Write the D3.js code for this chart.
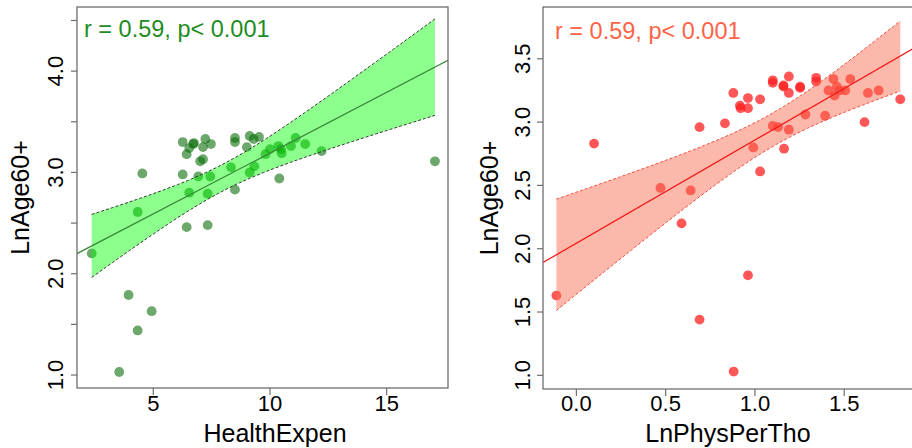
<!DOCTYPE html>
<html>
<head>
<meta charset="utf-8">
<script src="https://cdn.jsdelivr.net/npm/d3@7"></script>
<style>
  html, body { margin: 0; padding: 0; background: #fff; }
  svg { display: block; font-family: Arial, "Liberation Sans", sans-serif; }
</style>
</head>
<body>
<svg id="chart" width="912" height="448"></svg>
<script>
// ---------- data ----------
const healthExpen = [2.36,3.54,3.94,4.33,4.33,4.53,4.93,6.26,6.26,6.43,6.43,6.54,6.54,6.71,6.74,6.93,7.01,7.13,7.13,7.23,7.33,7.33,7.44,7.47,8.33,8.50,8.50,8.50,9.01,9.13,9.13,9.30,9.33,9.53,9.81,10.0,10.36,10.4,10.47,10.5,10.9,11.1,11.51,12.21,17.07];
const lnAge60Left = [2.20,1.03,1.79,1.44,2.61,2.99,1.63,3.30,2.98,3.18,2.46,3.24,2.80,3.28,3.29,2.96,3.11,3.13,3.25,3.33,2.79,2.48,2.96,3.28,3.05,3.34,3.30,2.83,3.25,3.36,3.00,3.33,3.06,3.35,3.18,3.23,3.26,2.94,3.23,3.19,3.26,3.34,3.28,3.21,3.11];

const lnPhysPerTho = [-0.112,0.099,0.471,0.589,0.640,0.690,0.690,0.832,0.879,0.881,0.916,0.920,0.961,0.961,0.961,0.991,1.029,1.029,1.10,1.10,1.10,1.13,1.16,1.16,1.163,1.19,1.19,1.19,1.253,1.253,1.283,1.343,1.343,1.393,1.412,1.44,1.446,1.459,1.474,1.506,1.534,1.614,1.633,1.693,1.814];
const lnAge60Right = [1.63,2.83,2.48,2.20,2.46,2.96,1.44,2.99,3.23,1.03,3.13,3.11,3.19,3.11,1.79,2.80,3.18,2.61,3.33,3.31,2.97,2.96,3.29,3.28,2.79,3.36,3.23,2.94,3.28,3.27,3.06,3.35,3.32,3.05,3.25,3.34,3.21,3.28,3.25,3.25,3.34,3.00,3.23,3.25,3.18];

const leftXTicks = [5, 10, 15];
const leftYTicks = [1.0, 1.5, 2.0, 2.5, 3.0, 3.5, 4.0, 4.5];
const leftYLabels = [1.0, 2.0, 3.0, 4.0];
const rightXTicks = [0.0, 0.5, 1.0, 1.5];
const rightYTicks = [1.0, 1.5, 2.0, 2.5, 3.0, 3.5];
const rightYLabels = [1.0, 1.5, 2.0, 2.5, 3.0, 3.5];

const statLabel = "r = 0.59, p< 0.001";
const xTitles = ["HealthExpen", "LnPhysPerTho"];
const yTitle = "LnAge60+";
const T_CRIT = 2.0167; // qt(0.975, df = 43)

// ---------- helpers ----------
function fit(xs, ys) {
  const n = xs.length;
  const mx = d3.mean(xs), my = d3.mean(ys);
  let sxx = 0, sxy = 0;
  for (let i = 0; i < n; i++) { sxx += (xs[i]-mx)**2; sxy += (xs[i]-mx)*(ys[i]-my); }
  const b = sxy / sxx, a = my - b * mx;
  let sse = 0;
  for (let i = 0; i < n; i++) sse += (ys[i] - a - b*xs[i])**2;
  const s = Math.sqrt(sse / (n - 2));
  const half = x => T_CRIT * s * Math.sqrt(1/n + (x-mx)**2/sxx);
  return { a, b, half };
}

const svg = d3.select("#chart");

function panel(cfg) {
  const { xs, ys, xDom, yDom, box, xTicks, yTicks, yLabels, fmtX, fmtY,
          fill, fillOpacity, bandStroke, lineColor, ptColor, ptOpacity, textColor,
          statX, statY, xTitle, xTitleX, yTickLabelX, yTitleX, clipId } = cfg;
  const x = d3.scaleLinear().domain(xDom).range([box.x0, box.x1]);
  const y = d3.scaleLinear().domain(yDom).range([box.y1, box.y0]);
  const g = svg.append("g");

  g.append("clipPath").attr("id", clipId)
    .append("rect").attr("x", box.x0).attr("y", box.y0)
    .attr("width", box.x1 - box.x0).attr("height", box.y1 - box.y0);

  const plot = g.append("g").attr("clip-path", `url(#${clipId})`);
  const f = fit(xs, ys);
  const [xmin, xmax] = d3.extent(xs);
  const grid = d3.range(0, 101).map(i => xmin + (xmax - xmin) * i / 100);

  // points (drawn first; the translucent band goes over them)
  plot.selectAll("circle.pt").data(xs.map((v, i) => [v, ys[i]]))
    .enter().append("circle").attr("class", "pt")
    .attr("cx", d => x(d[0])).attr("cy", d => y(d[1]))
    .attr("r", 4.9).attr("fill", ptColor).attr("fill-opacity", ptOpacity);

  // confidence band
  plot.append("path")
    .datum(grid)
    .attr("d", d3.area()
      .x(d => x(d))
      .y0(d => y(f.a + f.b*d - f.half(d)))
      .y1(d => y(f.a + f.b*d + f.half(d))))
    .attr("fill", fill).attr("fill-opacity", fillOpacity).attr("stroke", "none");
  ["upper", "lower"].forEach(k => {
    plot.append("path")
      .datum(grid)
      .attr("d", d3.line().x(d => x(d))
        .y(d => y(f.a + f.b*d + (k === "upper" ? 1 : -1) * f.half(d))))
      .attr("fill", "none").attr("stroke", bandStroke)
      .attr("stroke-width", 1).attr("stroke-dasharray", "3,2");
  });

  // regression line across the whole plot
  plot.append("line")
    .attr("x1", x(xDom[0])).attr("y1", y(f.a + f.b*xDom[0]))
    .attr("x2", x(xDom[1])).attr("y2", y(f.a + f.b*xDom[1]))
    .attr("stroke", lineColor).attr("stroke-width", 1.3);

  // box
  g.append("rect").attr("x", box.x0).attr("y", box.y0)
    .attr("width", box.x1 - box.x0).attr("height", box.y1 - box.y0)
    .attr("fill", "none").attr("stroke", "#6e6e6e").attr("stroke-width", 1.3);

  // x ticks
  const xa = g.append("g");
  xTicks.forEach(t => {
    xa.append("line").attr("x1", x(t)).attr("x2", x(t))
      .attr("y1", box.y1).attr("y2", box.y1 + 7)
      .attr("stroke", "#6e6e6e").attr("stroke-width", 1.2);
    xa.append("text").attr("x", x(t)).attr("y", 411)
      .attr("text-anchor", "middle").attr("font-size", 22).attr("fill", "#000")
      .text(fmtX(t));
  });
  // y ticks
  const ya = g.append("g");
  yTicks.forEach(t => {
    ya.append("line").attr("x1", box.x0 - 6).attr("x2", box.x0)
      .attr("y1", y(t)).attr("y2", y(t))
      .attr("stroke", "#6e6e6e").attr("stroke-width", 1.2);
  });
  yLabels.forEach(t => {
    ya.append("text")
      .attr("transform", `translate(${yTickLabelX},${y(t)}) rotate(-90)`)
      .attr("dy", "0.36em")
      .attr("text-anchor", "middle").attr("font-size", 22).attr("fill", "#000")
      .text(fmtY(t));
  });

  // titles
  g.append("text").attr("x", xTitleX).attr("y", 442)
    .attr("text-anchor", "middle").attr("font-size", 25).attr("fill", "#000")
    .text(xTitle);
  g.append("text")
    .attr("transform", `translate(${yTitleX},${(box.y0 + box.y1) / 2}) rotate(-90)`)
    .attr("dy", "0.36em")
    .attr("text-anchor", "middle").attr("font-size", 25).attr("fill", "#000")
    .text(yTitle);

  // stat text
  g.append("text").attr("x", statX).attr("y", statY)
    .attr("font-size", 23.5).attr("fill", textColor).text(statLabel);
}

panel({
  xs: healthExpen, ys: lnAge60Left,
  xDom: [1.73, 17.63], yDom: [0.872, 4.633],
  box: { x0: 77, x1: 448, y0: 7, y1: 388 },
  xTicks: leftXTicks, yTicks: leftYTicks, yLabels: leftYLabels,
  fmtX: d3.format("d"), fmtY: d3.format(".1f"),
  fill: "#00ff00", fillOpacity: 0.45, bandStroke: "#333", lineColor: "#3a8a3a",
  ptColor: "#0a6e0a", ptOpacity: 0.6, textColor: "#1f8c1f",
  statX: 84, statY: 37, xTitle: xTitles[0], xTitleX: 275,
  yTickLabelX: 55, yTitleX: 20, clipId: "clipL"
});

panel({
  xs: lnPhysPerTho, ys: lnAge60Right,
  xDom: [-0.187, 1.891], yDom: [0.892, 3.909],
  box: { x0: 543, x1: 914, y0: 7, y1: 389 },
  xTicks: rightXTicks, yTicks: rightYTicks, yLabels: rightYLabels,
  fmtX: d3.format(".1f"), fmtY: d3.format(".1f"),
  fill: "#f86a50", fillOpacity: 0.48, bandStroke: "#f24a3a", lineColor: "#f21a1a",
  ptColor: "#ff1f1f", ptOpacity: 0.75, textColor: "#ff6347",
  statX: 555, statY: 39, xTitle: xTitles[1], xTitleX: 728,
  yTickLabelX: 522, yTitleX: 489, clipId: "clipR"
});
</script>
</body>
</html>
